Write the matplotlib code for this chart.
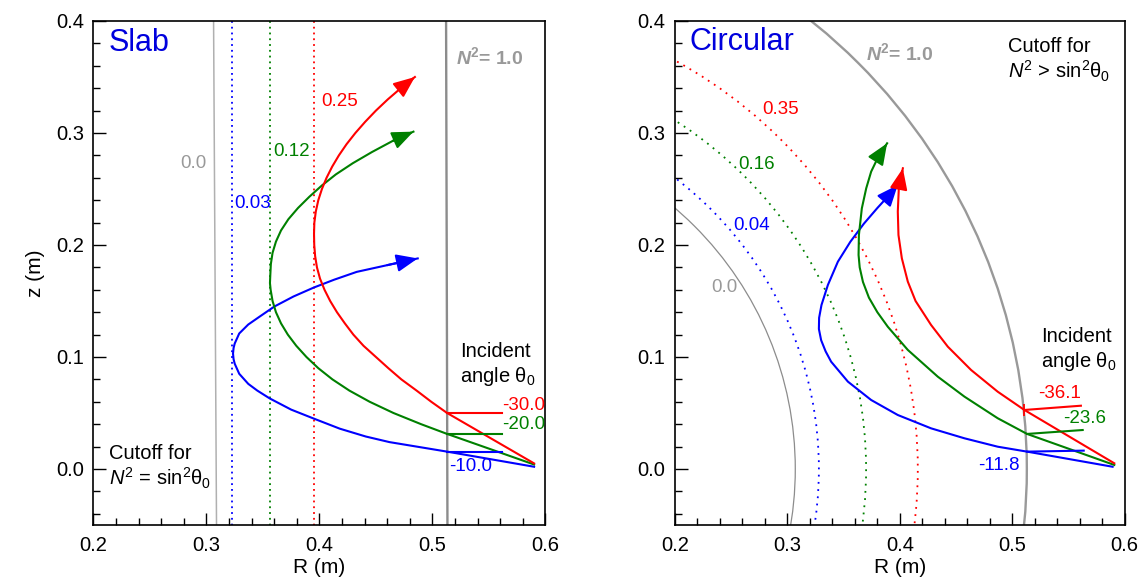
import matplotlib.pyplot as plt
from matplotlib.patches import Circle
from matplotlib.ticker import MultipleLocator

plt.rcParams['font.family'] = ['Liberation Sans', 'DejaVu Sans']
plt.rcParams['mathtext.fontset'] = 'custom'
plt.rcParams['mathtext.rm'] = 'Liberation Sans'
plt.rcParams['mathtext.it'] = 'Liberation Sans:italic'
plt.rcParams['mathtext.bf'] = 'Liberation Sans:bold'
plt.rcParams['mathtext.bfit'] = 'Liberation Sans:bold:italic'

RED, GREEN, BLUE = '#ff0000', '#008000', '#0000ff'
GRAY = '#999999'

# ---- slab geometry: ray paths (R, z) ----
slab_blue_r = [0.590, 0.513, 0.486, 0.462, 0.441, 0.418, 0.395, 0.375, 0.356, 0.345,
               0.337, 0.329, 0.325, 0.3240, 0.3235, 0.3240, 0.325, 0.329, 0.337, 0.347,
               0.360, 0.377, 0.395, 0.413, 0.433, 0.460, 0.487]
slab_blue_z = [0.002, 0.0155, 0.020, 0.024, 0.029, 0.036, 0.045, 0.053, 0.063, 0.070,
               0.076, 0.085, 0.094, 0.098, 0.103, 0.108, 0.112, 0.121, 0.129, 0.136,
               0.145, 0.154, 0.162, 0.169, 0.176, 0.182, 0.188]
slab_green_r = [0.590, 0.5125, 0.490, 0.4655, 0.4445, 0.4265, 0.4115, 0.399, 0.3885,
                0.3795, 0.372, 0.366, 0.3615, 0.3585, 0.3568, 0.3562, 0.3565, 0.357,
                0.3585, 0.3615, 0.366, 0.3725, 0.381, 0.391, 0.402, 0.4145, 0.4295,
                0.4465, 0.465, 0.4832]
slab_green_z = [0.004, 0.0315, 0.040, 0.050, 0.060, 0.070, 0.080, 0.090, 0.100,
                0.110, 0.120, 0.130, 0.140, 0.150, 0.160, 0.166, 0.173, 0.183,
                0.193, 0.203, 0.213, 0.223, 0.233, 0.243, 0.253, 0.263, 0.273,
                0.283, 0.293, 0.3012]
slab_red_r = [0.590, 0.513, 0.499, 0.486, 0.4725, 0.461, 0.450, 0.439, 0.430, 0.4225,
              0.4155, 0.4095, 0.4045, 0.4005, 0.3978, 0.3962, 0.3954, 0.3952, 0.3955,
              0.3968, 0.3990, 0.4022, 0.4063, 0.4113, 0.4172, 0.424, 0.4318, 0.4405,
              0.450, 0.4605, 0.472, 0.4845]
slab_red_z = [0.005, 0.050, 0.060, 0.070, 0.080, 0.090, 0.100, 0.110, 0.120, 0.130,
              0.140, 0.150, 0.160, 0.170, 0.180, 0.190, 0.200, 0.210, 0.220,
              0.230, 0.240, 0.250, 0.260, 0.270, 0.280, 0.290, 0.300, 0.310,
              0.320, 0.330, 0.340, 0.350]
slab_cross_z = [0.0155, 0.0315, 0.0503]       # where rays meet N^2 = 1
slab_cut_top = [0.3063, 0.3229, 0.3559, 0.3952, 0.5121]
slab_cut_bot = [0.3089, 0.3229, 0.3559, 0.3952, 0.5133]
slab_cut_labels = ['0.0', '0.03', '0.12', '0.25']
slab_angles = ['-10.0', '-20.0', '-30.0']

# ---- circular geometry ----
circ_blue_r = [0.5893, 0.5132, 0.4871, 0.4575, 0.4278, 0.3982, 0.3745, 0.3538, 0.3389,
               0.3340, 0.3300, 0.3280, 0.3282, 0.3303, 0.3360, 0.3449, 0.3560, 0.3680,
               0.3800, 0.3900, 0.3982]
circ_blue_z = [0.002, 0.0155, 0.0199, 0.0274, 0.0363, 0.0482, 0.0616, 0.0780, 0.0958,
               0.1050, 0.1150, 0.1250, 0.1350, 0.1464, 0.1643, 0.1851, 0.2029, 0.2190,
               0.2330, 0.2440, 0.2536]
circ_green_r = [0.5908, 0.5132, 0.4871, 0.4575, 0.4338, 0.4071, 0.3893, 0.3800, 0.3725,
                0.3672, 0.3643, 0.3633, 0.3636, 0.3662, 0.3701, 0.3745, 0.3805, 0.3887]
circ_green_z = [0.0036, 0.0313, 0.0453, 0.0646, 0.0824, 0.1063, 0.1270, 0.1400, 0.1530,
                0.1670, 0.1800, 0.1911, 0.2089, 0.2327, 0.2506, 0.2655, 0.2780, 0.2908]
circ_red_r = [0.5908, 0.5108, 0.4871, 0.4634, 0.4427, 0.4278, 0.4140, 0.4071, 0.4018,
              0.3988, 0.3982, 0.3991, 0.4027]
circ_red_z = [0.0051, 0.0527, 0.0690, 0.0884, 0.1092, 0.1286, 0.1500, 0.1673, 0.1881,
              0.2089, 0.2298, 0.2506, 0.2685]
circ_cross_r = [0.5132, 0.5132, 0.5108]
circ_cross_z = [0.0155, 0.0313, 0.0527]
circ_ref_end_r = [0.5636, 0.5627, 0.5611]
circ_ref_end_z = [0.0164, 0.0348, 0.0565]
circ_cut_radius = [0.307, 0.328, 0.370, 0.416, 0.513]
circ_cut_labels = ['0.0', '0.04', '0.16', '0.35']
circ_angles = ['-11.8', '-23.6', '-36.1']

colors = [BLUE, GREEN, RED]

fig = plt.figure(figsize=(11.47, 5.83), dpi=100)
ax1 = fig.add_axes([0.0815, 0.0995, 0.394, 0.8645])
ax2 = fig.add_axes([0.5885, 0.0995, 0.392, 0.8645])


def style_axes(ax):
    ax.set_xlim(0.2, 0.6)
    ax.set_ylim(-0.05, 0.4)
    ax.xaxis.set_major_locator(MultipleLocator(0.1))
    ax.xaxis.set_minor_locator(MultipleLocator(0.02))
    ax.yaxis.set_major_locator(MultipleLocator(0.1))
    ax.yaxis.set_minor_locator(MultipleLocator(0.02))
    ax.tick_params(which='both', direction='in', top=False, right=False,
                   labelsize=14.5, width=1)
    ax.tick_params(which='major', length=9)
    ax.tick_params(which='minor', length=5)
    ax.tick_params(axis='x', pad=8)
    ax.tick_params(axis='y', pad=7)
    ax.xaxis.set_major_formatter(plt.FuncFormatter(lambda v, p: '%.1f' % v))
    ax.yaxis.set_major_formatter(plt.FuncFormatter(lambda v, p: '%.1f' % v))
    for s in ax.spines.values():
        s.set_linewidth(1.2)
    ax.set_xlabel('R (m)', fontsize=15, labelpad=2)


def draw_ray(ax, r, z, c):
    ax.plot(r, z, color=c, lw=1.5, zorder=4)
    ax.annotate('', xy=(r[-1], z[-1]), xytext=(r[-2], z[-2]),
                arrowprops=dict(arrowstyle='-|>,head_length=0.65,head_width=0.27',
                                color=c, lw=1.5, shrinkA=0, shrinkB=0,
                                mutation_scale=20), zorder=5)


# ---------------- slab ----------------
style_axes(ax1)
ax1.set_ylabel('z (m)', fontsize=15, labelpad=8)
ax1.plot([slab_cut_top[0], slab_cut_bot[0]], [0.4, -0.05], color='#b0b0b0', lw=1.1)
for i, c in enumerate(colors):
    ax1.plot([slab_cut_top[i + 1], slab_cut_bot[i + 1]], [0.4, -0.05], color=c,
             lw=1.3, linestyle=(0, (1, 2.2)))
ax1.plot([slab_cut_top[4], slab_cut_bot[4]], [0.4, -0.05], color='#8c8c8c', lw=1.7)

for r, z, c in zip([slab_blue_r, slab_green_r, slab_red_r],
                   [slab_blue_z, slab_green_z, slab_red_z], colors):
    draw_ray(ax1, r, z, c)
for zc, c in zip(slab_cross_z, colors):
    ax1.plot([0.5127, 0.562], [zc, zc], color=c, lw=1.5, zorder=4)

ax1.text(0.213, 0.380, 'Slab', color='#0000dd', fontsize=22, va='center')
ax1.text(0.5206, 0.3673, r'$\mathbfit{N}^{\mathbf{2}}$= 1.0', color=GRAY,
         fontsize=14, fontweight='bold', va='center')
ax1.text(0.277, 0.2728, slab_cut_labels[0], color=GRAY, fontsize=13.5, va='center')
ax1.text(0.3248, 0.2371, slab_cut_labels[1], color=BLUE, fontsize=13.5, va='center')
ax1.text(0.3587, 0.2832, slab_cut_labels[2], color=GREEN, fontsize=13.5, va='center')
ax1.text(0.4016, 0.3278, slab_cut_labels[3], color=RED, fontsize=13.5, va='center')
ax1.text(0.5248, 0.1047, 'Incident', fontsize=14.5, va='center')
ax1.text(0.5248, 0.0824, r'angle $\mathrm{\theta}_0$', fontsize=14.5, va='center')
ax1.text(0.5617, 0.0571, slab_angles[2], color=RED, fontsize=13.5, va='center')
ax1.text(0.5617, 0.0393, slab_angles[1], color=GREEN, fontsize=13.5, va='center')
ax1.text(0.5145, 0.0021, slab_angles[0], color=BLUE, fontsize=13.5, va='center')
ax1.text(0.2137, 0.0137, 'Cutoff for', fontsize=14.5, va='center')
ax1.text(0.2137, -0.008, r'$N^2$ = sin$^2\mathrm{\theta}_0$', fontsize=14.5, va='center')

# ---------------- circular ----------------
style_axes(ax2)
ax2.add_patch(Circle((0, 0), circ_cut_radius[0], fill=False, color='#8c8c8c', lw=0.9))
for i, c in enumerate(colors):
    ax2.add_patch(Circle((0, 0), circ_cut_radius[i + 1], fill=False, color=c, lw=1.3,
                         linestyle=(0, (1, 3))))
ax2.add_patch(Circle((0, 0), circ_cut_radius[4], fill=False, color='#999999', lw=1.7))

for r, z, c in zip([circ_blue_r, circ_green_r, circ_red_r],
                   [circ_blue_z, circ_green_z, circ_red_z], colors):
    draw_ray(ax2, r, z, c)
for rc, zc, re, ze, c in zip(circ_cross_r, circ_cross_z, circ_ref_end_r,
                             circ_ref_end_z, colors):
    ax2.plot([rc, re], [zc, ze], color=c, lw=1.5, zorder=4)
ax2.plot(circ_cross_r[2], circ_cross_z[2], marker='|', ms=9, mew=1.3, color=RED, zorder=5)

ax2.text(0.2128, 0.381, 'Circular', color='#0000dd', fontsize=22, va='center')
ax2.text(0.3696, 0.3716, r'$\mathbfit{N}^{\mathbf{2}}$= 1.0', color=GRAY,
         fontsize=14, fontweight='bold', va='center')
ax2.text(0.496, 0.3776, 'Cutoff for', fontsize=14.5, va='center')
ax2.text(0.496, 0.3552, r'$N^2$ > sin$^2\mathrm{\theta}_0$', fontsize=14.5, va='center')
ax2.text(0.232, 0.162, circ_cut_labels[0], color=GRAY, fontsize=13.5, va='center')
ax2.text(0.2518, 0.217, circ_cut_labels[1], color=BLUE, fontsize=13.5, va='center')
ax2.text(0.2566, 0.2722, circ_cut_labels[2], color=GREEN, fontsize=13.5, va='center')
ax2.text(0.2778, 0.3209, circ_cut_labels[3], color=RED, fontsize=13.5, va='center')
ax2.text(0.5255, 0.118, 'Incident', fontsize=14.5, va='center')
ax2.text(0.5255, 0.0958, r'angle $\mathrm{\theta}_0$', fontsize=14.5, va='center')
ax2.text(0.5228, 0.067, circ_angles[2], color=RED, fontsize=13.5, va='center')
ax2.text(0.545, 0.0453, circ_angles[1], color=GREEN, fontsize=13.5, va='center')
ax2.text(0.4696, 0.0027, circ_angles[0], color=BLUE, fontsize=13.5, va='center')

fig.savefig('out.png', dpi=100)
